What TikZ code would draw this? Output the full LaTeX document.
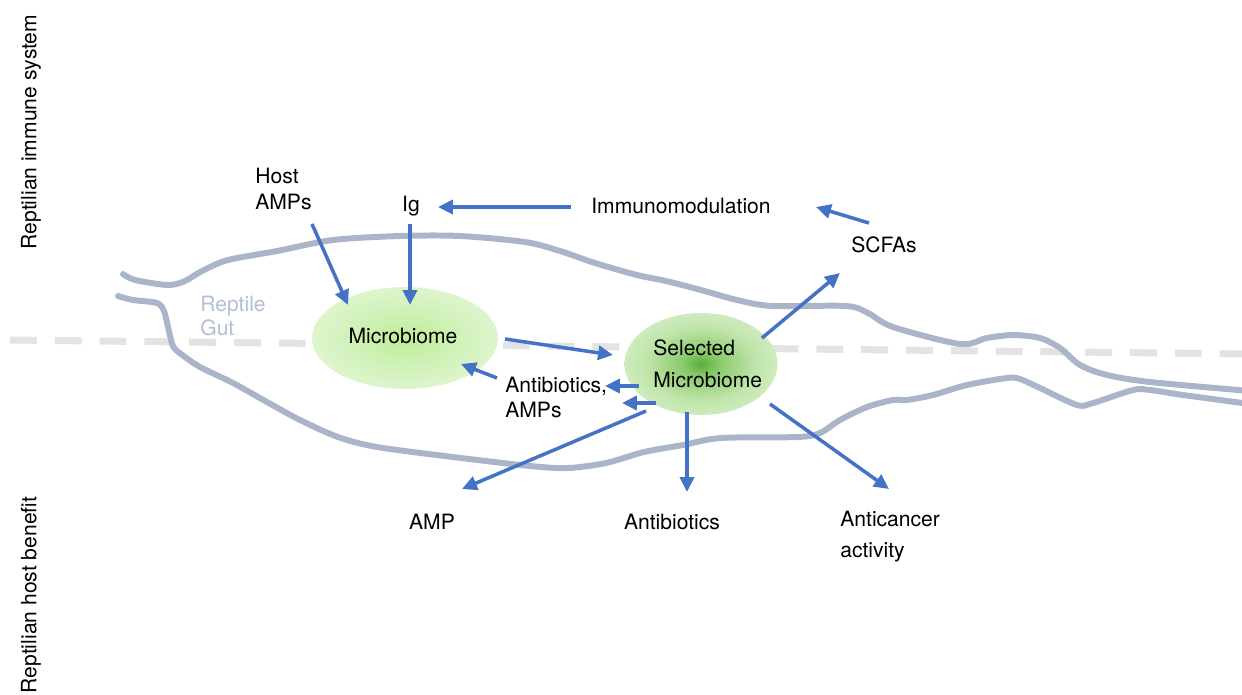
\documentclass[tikz,border=0pt]{standalone}
\usepackage{fontspec}
\setmainfont{TeX Gyre Heros}
\usetikzlibrary{arrows.meta,shapes.geometric}
\definecolor{arrowblue}{HTML}{4472C4}
\definecolor{gutgray}{HTML}{AAB5CA}
\definecolor{dashgray}{HTML}{E3E3E3}
\definecolor{guttext}{HTML}{B3BFD2}
\definecolor{mbA}{HTML}{BEEC99}
\definecolor{mbB}{HTML}{D1F2BA}
\definecolor{mbC}{HTML}{EBF8E2}
\definecolor{mbD}{HTML}{F3FBEE}
\definecolor{smA}{HTML}{5AAC38}
\definecolor{smB}{HTML}{8ACA6C}
\definecolor{smC}{HTML}{C0E5AA}
\definecolor{smD}{HTML}{DCF1CF}
\definecolor{smE}{HTML}{EDF8E6}
\pgfdeclareradialshading{mbshade}{\pgfpoint{0bp}{0bp}}{color(0bp)=(mbA); color(15bp)=(mbB); color(36bp)=(mbC); color(46bp)=(mbD); color(50bp)=(mbD)}
\pgfdeclareradialshading{smshade}{\pgfpoint{0bp}{0bp}}{color(0bp)=(smA); color(6bp)=(smB); color(18bp)=(smC); color(32bp)=(smD); color(44bp)=(smE); color(50bp)=(smE)}
\begin{document}
\begin{tikzpicture}[x=0.02cm,y=-0.02cm,
  every node/.style={inner sep=0pt, font=\fontsize{12}{14.5}\selectfont},
  arr/.style={draw=arrowblue, line width=2pt, -{Triangle[length=8.5pt,width=8pt]}},
  gut/.style={draw=gutgray, line width=3.4pt, line cap=round, line join=round},
  sidelbl/.style={rotate=90},
  twoline/.style={align=left, anchor=west}]
\useasboundingbox (0,0) rectangle (1242,694);
% dashed divider
\coordinate (dashL) at (10,340);
\coordinate (dashR) at (1250,354);
\draw[dashgray, line width=4pt, dash pattern=on 15.3pt off 10.2pt] (dashL) -- (dashR);
% gut outline
\draw[gut] plot[smooth, tension=0.5] coordinates {(123,274) (135,280) (168,285) (185,281) (202,271) (228,260) (277,251) (333,240) (400,236) (460,236) (525,242) (560,251) (595,263) (637,275) (666,281) (701,290) (737,300) (772,306) (846,306) (868,313) (893,327) (960,344) (987,338) (1013,335) (1040,338) (1060,348) (1080,365) (1107,375) (1150,382) (1250,391)};
\draw[gut] plot[smooth, tension=0.5] coordinates {(118,296) (133,300) (157,303) (164,311) (168,327) (173,346) (181,354) (200,367) (233,383) (267,402) (300,420) (338,437) (377,447) (453,457) (530,466) (568,468) (606,463) (644,452) (683,445) (721,438) (798,437) (820,433) (840,420) (867,407) (893,400) (907,400) (933,395) (967,385) (1007,378) (1020,379) (1040,388) (1077,405) (1093,403) (1133,390) (1150,390) (1183,395) (1250,404)};
\node[twoline, text=guttext, font=\fontsize{12}{14.2}\selectfont] (gut) at (200,316) {Reptile\\Gut};
% side labels
\node[sidelbl] (immsys) at (31,132) {Reptilian immune system};
\node[sidelbl] (hostben) at (31,595) {Reptilian host benefit};
% microbiome ellipses
\node[ellipse, minimum width=3.72cm, minimum height=2.04cm, shading=mbshade] (mb) at (405,338) {};
\node (mbtext) at (403,336) {Microbiome};
\node[ellipse, minimum width=3.06cm, minimum height=2.04cm, shading=smshade] (sm) at (701,364) {};
\node[twoline, font=\fontsize{12}{18}\selectfont] (smtext) at (653,364) {Selected\\Microbiome};
% text labels
\node[twoline] (host) at (255,189) {Host\\AMPs};
\node (ig) at (411,206) {Ig};
\node (immuno) at (681,206) {Immunomodulation};
\node (scfa) at (884,245) {SCFAs};
\node[twoline, font=\fontsize{12}{14.2}\selectfont] (abamp) at (505,397) {Antibiotics,\\AMPs};
\node (amp) at (432,522) {AMP};
\node (antib) at (672,522) {Antibiotics};
\node[twoline, font=\fontsize{12}{17.6}\selectfont] (cancer) at (840,537) {Anticancer\\activity};
% arrow end points
\coordinate (hostS) at (312,224); \coordinate (hostE) at (348,305);
\coordinate (igS) at (410,224);   \coordinate (igE) at (410,305);
\coordinate (imS) at (571,207);   \coordinate (imE) at (438,207);
\coordinate (scS) at (869,223);   \coordinate (scE) at (816,207);
\coordinate (mbS) at (505,339);   \coordinate (mbE) at (613,355);
\coordinate (abS) at (497,378);   \coordinate (abE) at (461,364);
\coordinate (smA1) at (639,386);  \coordinate (abE1) at (605,386);
\coordinate (smA2) at (656,403);  \coordinate (abE2) at (622,403);
\coordinate (smAmp) at (646,411); \coordinate (ampE) at (462,489);
\coordinate (smAnt) at (687,412); \coordinate (antE) at (687,492);
\coordinate (smCan) at (770,404); \coordinate (canE) at (889,489);
\coordinate (smScf) at (762,338); \coordinate (scfE) at (840,273);
% arrows
\draw[arr] (hostS) -- (hostE);
\draw[arr] (igS) -- (igE);
\draw[arr] (imS) -- (imE);
\draw[arr] (scS) -- (scE);
\draw[arr] (mbS) -- (mbE);
\draw[arr] (abS) -- (abE);
\draw[arr] (smA1) -- (abE1);
\draw[arr] (smA2) -- (abE2);
\draw[arr] (smAmp) -- (ampE);
\draw[arr] (smAnt) -- (antE);
\draw[arr] (smCan) -- (canE);
\draw[arr] (smScf) -- (scfE);
\end{tikzpicture}
\end{document}
